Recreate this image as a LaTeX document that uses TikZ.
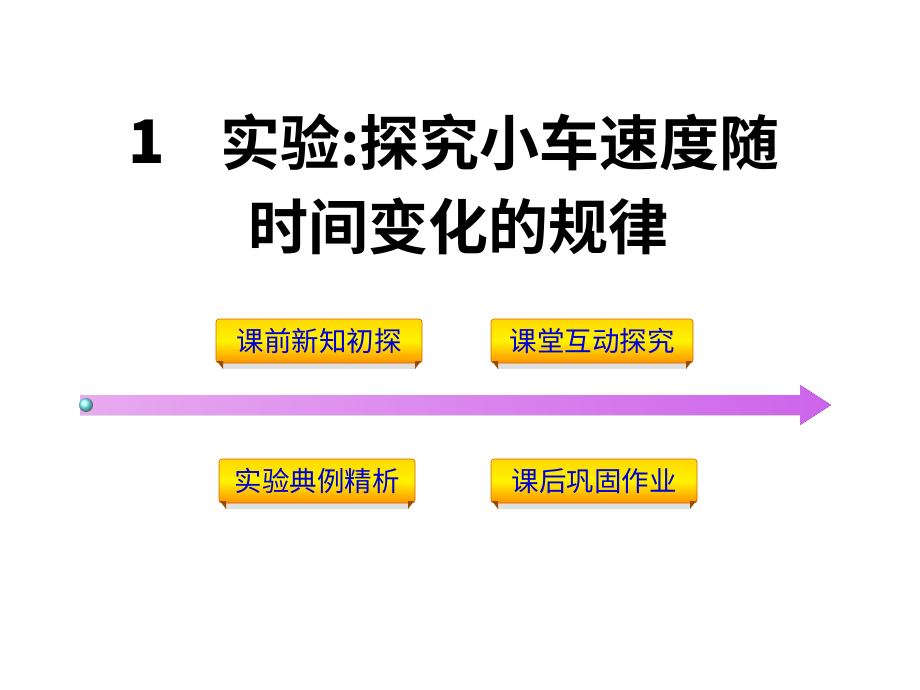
\documentclass[tikz,border=0pt]{standalone}
\usepackage{fontspec}
\newfontfamily\cjk{Noto Sans CJK SC}
\newfontfamily\cjkb{Noto Sans CJK SC Bold}
\definecolor{arrL}{RGB}{232,170,240}
\definecolor{arrR}{RGB}{205,100,235}
\begin{document}
\begin{tikzpicture}[x=1pt,y=-1pt,
  btn/.style={draw=orange!80!black,line width=0.6pt,rounded corners=3pt,
    top color=yellow!70!orange,bottom color=orange!85!yellow,middle color=yellow!90!orange,
    minimum height=44pt,inner sep=0pt,font=\cjk\fontsize{27.5}{28}\selectfont,text=blue!85!black},
  ttl/.style={font=\cjkb\fontsize{60}{60}\selectfont,anchor=west,inner sep=0pt}]
\useasboundingbox (0,0) rectangle (920,690);
\node[ttl] (t0) at (128,142) {\bfseries 1};
\node[ttl] (t1) at (220,142) {实验:探究小车速度随};
\node[ttl] (t2) at (248,226) {时间变化的规律};
\fill[left color=arrL,right color=arrR] (80,395) -- (800,395) -- (800,385) -- (831,405) -- (800,425) -- (800,415) -- (80,415) -- cycle;
\shade[ball color=cyan!45] (86,405) circle (7);
\foreach \n/\x/\y/\w/\t in {b1/319/341/206/课前新知初探, b2/592/341/202/课堂互动探究, b3/317/481/196/实验典例精析, b4/594/481/206/课后巩固作业}{
  \fill[gray!25] (\x-\w/2+6,\y+22) rectangle (\x+\w/2-6,\y+28);
  \node[btn,minimum width=\w] (\n) at (\x,\y) {\t};
  \fill[orange!60!black] (\x-\w/2+1,\y+20) -- (\x-\w/2+7,\y+20) -- (\x-\w/2+7,\y+28) -- cycle;
  \fill[orange!60!black] (\x+\w/2-1,\y+20) -- (\x+\w/2-7,\y+20) -- (\x+\w/2-7,\y+28) -- cycle;
}
\end{tikzpicture}
\end{document}
